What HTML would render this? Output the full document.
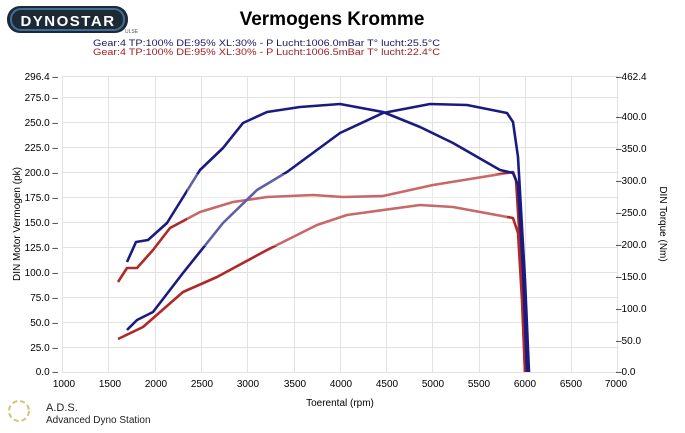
<!DOCTYPE html>
<html><head><meta charset="utf-8"><style>
body{margin:0;background:#fff;width:685px;height:428px;overflow:hidden;font-family:"Liberation Sans",sans-serif}
</style></head><body>
<svg width="685" height="428" viewBox="0 0 685 428" xmlns="http://www.w3.org/2000/svg" font-family="Liberation Sans, sans-serif">
<rect width="685" height="428" fill="#fff"/>
<rect x="7" y="6" width="121" height="27" rx="13" fill="#1d2a36"/>
<rect x="11" y="9" width="113" height="21" rx="10" fill="none" stroke="#3f6f99" stroke-width="2"/>
<text x="68" y="26" font-size="15" font-weight="bold" fill="#fff" text-anchor="middle" letter-spacing="1.5">DYNOSTAR</text>
<text x="125" y="33" font-size="5" fill="#555">ULSE</text>
<text x="332" y="25" font-size="19" font-weight="bold" text-anchor="middle" fill="#000">Vermogens Kromme</text>
<text x="93" y="46" font-size="9.5" fill="#1a1a60" textLength="347" lengthAdjust="spacingAndGlyphs">Gear:4 TP:100% DE:95% XL:30%   - P Lucht:1006.0mBar T° lucht:25.5°C</text>
<text x="93" y="55" font-size="9.5" fill="#a02020" textLength="347" lengthAdjust="spacingAndGlyphs">Gear:4 TP:100% DE:95% XL:30%   - P Lucht:1006.5mBar T° lucht:22.4°C</text>
<g stroke="#e2e2e2" stroke-width="1">
<line x1="62" y1="76.5" x2="617" y2="76.5"/>
<line x1="62" y1="97.5" x2="617" y2="97.5"/><line x1="62" y1="122.5" x2="617" y2="122.5"/><line x1="62" y1="147.5" x2="617" y2="147.5"/><line x1="62" y1="172.5" x2="617" y2="172.5"/><line x1="62" y1="197.5" x2="617" y2="197.5"/><line x1="62" y1="222.5" x2="617" y2="222.5"/><line x1="62" y1="247.5" x2="617" y2="247.5"/><line x1="62" y1="272.5" x2="617" y2="272.5"/><line x1="62" y1="297.5" x2="617" y2="297.5"/><line x1="62" y1="322.5" x2="617" y2="322.5"/><line x1="62" y1="347.5" x2="617" y2="347.5"/>
<line x1="62.5" y1="76" x2="62.5" y2="372"/><line x1="108.5" y1="76" x2="108.5" y2="372"/><line x1="155.5" y1="76" x2="155.5" y2="372"/><line x1="201.5" y1="76" x2="201.5" y2="372"/><line x1="247.5" y1="76" x2="247.5" y2="372"/><line x1="294.5" y1="76" x2="294.5" y2="372"/><line x1="340.5" y1="76" x2="340.5" y2="372"/><line x1="386.5" y1="76" x2="386.5" y2="372"/><line x1="432.5" y1="76" x2="432.5" y2="372"/><line x1="479.5" y1="76" x2="479.5" y2="372"/><line x1="525.5" y1="76" x2="525.5" y2="372"/><line x1="571.5" y1="76" x2="571.5" y2="372"/><line x1="617.5" y1="76" x2="617.5" y2="372"/>
</g>
<line x1="62" y1="372.5" x2="617" y2="372.5" stroke="#e2e2e2"/>
<g font-size="10" fill="#000" text-anchor="end">
<text x="58" y="80">296.4 –</text><text x="58" y="101">275.0 –</text><text x="58" y="126">250.0 –</text><text x="58" y="151">225.0 –</text><text x="58" y="176">200.0 –</text><text x="58" y="201">175.0 –</text><text x="58" y="226">150.0 –</text><text x="58" y="251">125.0 –</text><text x="58" y="276">100.0 –</text><text x="58" y="301">75.0 –</text><text x="58" y="326">50.0 –</text><text x="58" y="351">25.0 –</text><text x="58" y="375">0.0 –</text>
</g>
<g font-size="10" fill="#000">
<text x="616" y="80">–462.4</text><text x="616" y="120">–400.0</text><text x="616" y="152">–350.0</text><text x="616" y="184">–300.0</text><text x="616" y="216">–250.0</text><text x="616" y="248">–200.0</text><text x="616" y="280">–150.0</text><text x="616" y="312">–100.0</text><text x="616" y="344">–50.0</text><text x="616" y="375">–0.0</text>
</g>
<g font-size="10" fill="#000" text-anchor="middle">
<text x="64" y="387">1000</text><text x="110" y="387">1500</text><text x="156" y="387">2000</text><text x="202" y="387">2500</text><text x="248" y="387">3000</text><text x="295" y="387">3500</text><text x="341" y="387">4000</text><text x="387" y="387">4500</text><text x="433" y="387">5000</text><text x="479" y="387">5500</text><text x="525" y="387">6000</text><text x="571" y="387">6500</text><text x="616" y="387">7000</text>
</g>
<text x="340" y="406" font-size="10" text-anchor="middle">Toerental (rpm)</text>
<text transform="translate(20,224) rotate(-90)" font-size="10" text-anchor="middle">DIN Motor Vermogen (pk)</text>
<text transform="translate(660,224) rotate(90)" font-size="10" text-anchor="middle">DIN Torque (Nm)</text>
<circle cx="19" cy="411" r="10" fill="none" stroke="#d8c070" stroke-width="2" stroke-dasharray="5 3"/>
<text x="46" y="411" font-size="11" fill="#222">A.D.S.</text>
<text x="46" y="423" font-size="10" fill="#222">Advanced Dyno Station</text>
<g fill="none" stroke-width="2.6" stroke-linejoin="round">
<polyline stroke="#b02828" points="118,282 127,268 137,268 153,250 170,228 200,212 233,202 267,197 313,195 343,197 383,196 433,185 513,172 516,180 521,260 525,372"/>
<polyline stroke="#b02828" points="118,339 143,327 183,292 217,277 267,250 317,225 347,215 420,205 453,207 513,218 518,233 522,300 525,372"/>
<polyline stroke="#1a1a80" points="127,262 136,242 148,240 167,223 200,170 223,148 243,123 267,112 300,107 340,104 383,112 420,127 453,143 500,170 513,173 518,185 523,270 527,372"/>
<polyline stroke="#1a1a80" points="127,330 137,320 153,312 183,273 223,223 257,190 287,172 340,133 383,113 430,104 467,105 507,113 513,122 518,157 525,280 529,372"/>
</g>
<rect x="187" y="174" width="320" height="72" fill="#fff" opacity="0.3"/>
</svg>
</body></html>
